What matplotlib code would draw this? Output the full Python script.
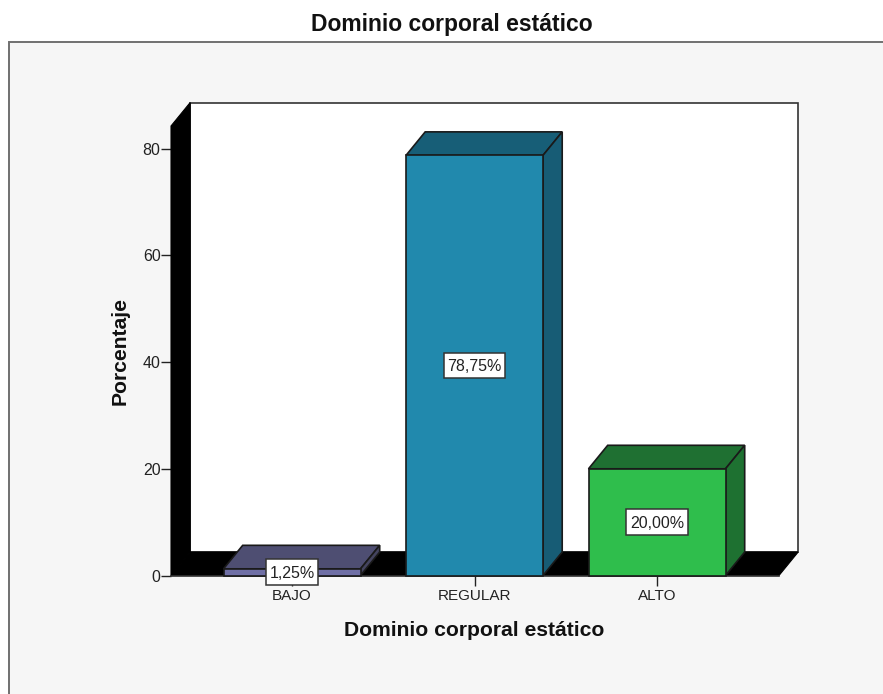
import matplotlib
matplotlib.use("Agg")
import matplotlib.pyplot as plt
from matplotlib.patches import Rectangle
from matplotlib.transforms import ScaledTranslation

categories = ["BAJO", "REGULAR", "ALTO"]
values = [1.25, 78.75, 20.00]
value_labels = ["1,25%", "78,75%", "20,00%"]
yticks = [0, 20, 40, 60, 80]
title = "Dominio corporal estático"
xlabel = "Dominio corporal estático"
ylabel = "Porcentaje"

front_colors = ["#6F6FA5", "#2189AD", "#2FBE4C"]
top_colors = ["#4E4E72", "#175E77", "#1F7032"]
side_colors = ["#44445F", "#175C75", "#1E7131"]

W, H = 883, 694
plt.rcParams["font.family"] = ["Liberation Sans", "DejaVu Sans"]
fig = plt.figure(figsize=(W / 100, H / 100), dpi=100, facecolor="white")

# grey chart panel, running off the right and bottom of the picture
fig.patches.append(Rectangle((9 / W, -0.02), 1.02, 1.02 - 42 / H,
                             transform=fig.transFigure, facecolor="#F6F6F6",
                             edgecolor="#707070", linewidth=1.4, zorder=-5))

L, R, Y0, PX = 171, 779, 575.5, 5.335
TOP = 126
ax = fig.add_axes([L / W, (H - Y0) / H, (R - L) / W, (Y0 - TOP) / H])
ax.set_facecolor("none")
xmin, xmax = (L - 292) / 182.5, (R - 292) / 182.5
ymax = (Y0 - TOP) / PX
ax.set_xlim(xmin, xmax)
ax.set_ylim(0, ymax)
for s in ax.spines.values():
    s.set_visible(False)

dx, dy = 19.2 / 182.5, 23.5 / PX   # oblique depth in data units
EC = "#1A1A1A"

# back wall, left wall, floor
ax.fill([xmin + dx, xmax + dx, xmax + dx, xmin + dx],
        [dy, dy, ymax + dy, ymax + dy], fc="white", ec="#333333", lw=1.2,
        clip_on=False, zorder=1)
ax.fill([xmin, xmin + dx, xmin + dx, xmin],
        [0, dy, ymax + dy, ymax], fc="black", ec="black", lw=0.8,
        clip_on=False, zorder=2)
ax.fill([xmin, xmax, xmax + dx, xmin + dx],
        [0, 0, dy, dy], fc="black", ec="black", lw=0.8,
        clip_on=False, zorder=2)

renderer = fig.canvas.get_renderer()
bw = 137 / 182.5
for i, v in enumerate(values):
    a, b = i - bw / 2, i + bw / 2
    ax.fill([a, a + dx, b + dx, b], [v, v + dy, v + dy, v],
            fc=top_colors[i], ec=EC, lw=1.2, clip_on=False, zorder=3)
    ax.fill([b, b + dx, b + dx, b], [0, dy, v + dy, v],
            fc=side_colors[i], ec=EC, lw=1.2, clip_on=False, zorder=3)
    ax.fill([a, b, b, a], [0, 0, v, v],
            fc=front_colors[i], ec=EC, lw=1.2, clip_on=False, zorder=4)
    t = ax.text(i, v / 2, value_labels[i], ha="center", va="center_baseline",
                fontsize=11.5, color="#222222", zorder=6)
    # label box sized in inches around the value's position
    box_w = (t.get_window_extent(renderer).width + 7) / 100
    box_h = 0.255
    trans = fig.dpi_scale_trans + ScaledTranslation(i, v / 2, ax.transData)
    ax.add_patch(Rectangle((-box_w / 2, -box_h / 2), box_w, box_h, transform=trans,
                           fc="white", ec="#333333", lw=1.1, clip_on=False, zorder=5))

ax.axhline(0, color="#333333", lw=1.2, zorder=3.5, clip_on=False)
ax.set_xticks(range(len(categories)), categories)
ax.set_yticks(yticks)
ax.tick_params(axis="both", colors="#222222", width=1)
ax.tick_params(axis="x", length=7, pad=3, labelsize=11)
ax.tick_params(axis="y", length=7, pad=0.5, labelsize=11.5)
ax.set_xlabel(xlabel, fontsize=15.2, fontweight="bold", color="#111111", va="center")
ax.set_ylabel(ylabel, fontsize=15.2, fontweight="bold", color="#111111", va="center")
ax.xaxis.set_label_coords((474.5 - L) / (R - L), (Y0 - 631) / (Y0 - TOP))
ax.yaxis.set_label_coords((120 - L) / (R - L), (Y0 - 351) / (Y0 - TOP))
fig.text(452 / W, 1 - 25 / H, title, ha="center", va="center", fontsize=16.5,
         fontweight="bold", color="#111111")

fig.savefig("out.png", dpi=100)
